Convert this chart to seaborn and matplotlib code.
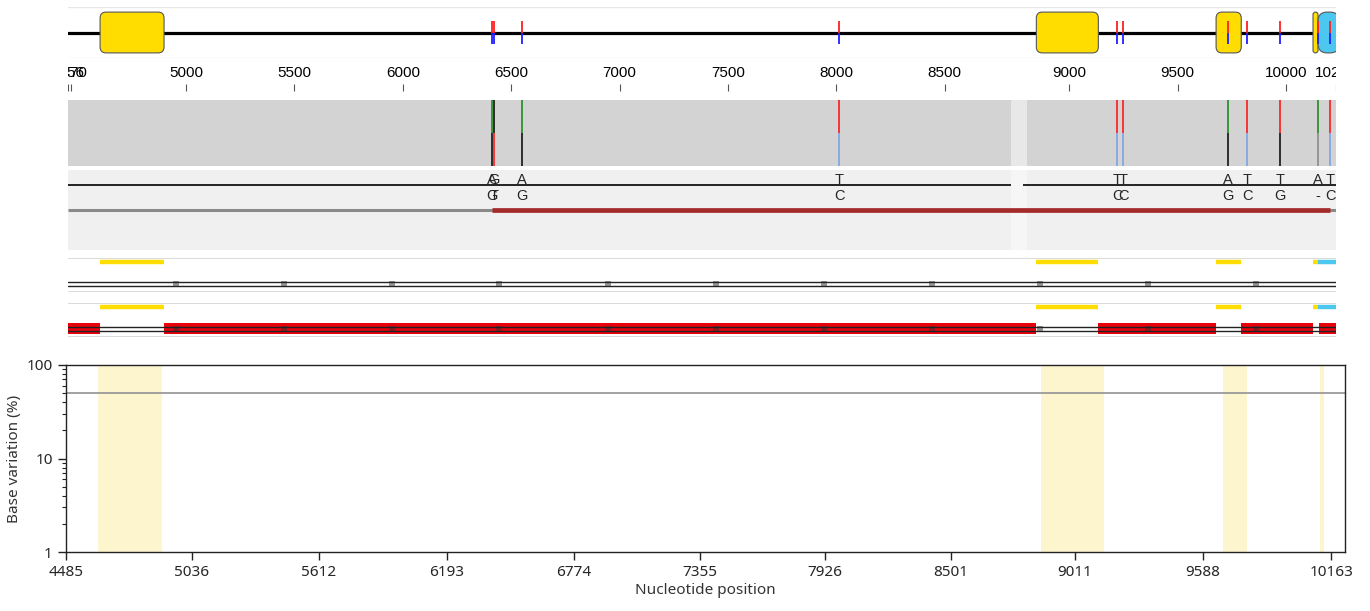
import matplotlib
matplotlib.use("Agg")
import matplotlib.pyplot as plt
from matplotlib.patches import FancyBboxPatch
import seaborn as sns

# ORFs on the genome map (reference positions)
orf_start = [4604, 8848, 9677, 10124, 10147]
orf_end = [4899, 9134, 9793, 10147, 10245]
orf_color = ['#FFDD00', '#FFDD00', '#FFDD00', '#FFDD00', '#4CC8F0']

# variants (reference positions)
var_pos = [6410, 6419, 6548, 8014, 9221, 9249, 9733, 9820, 9972, 10147, 10203]
ref_base = ['A', 'G', 'A', 'T', 'T', 'T', 'A', 'T', 'T', 'A', 'T']
alt_base = ['G', 'T', 'G', 'C', 'C', 'C', 'G', 'C', 'G', '-', 'C']

# insertion in the alignment (no reference positions)
ins_at, ins_len = 8806, 74

# scale ticks (top, reference positions)
top_ticks = [4456, 4470, 5000, 5500, 6000, 6500, 7000, 7500, 8000, 8500,
             9000, 9500, 10000, 10230]
# alignment column markers
marker_col = [4954, 5452, 5950, 6444, 6947, 7445, 7943, 8441, 8939, 9437, 9936]

# bottom plot (alignment columns)
band_start = [4594, 8944, 9783, 10231]
band_end = [4889, 9235, 9894, 10249]
bottom_tick_col = [4447, 5028, 5614, 6204, 6790, 7371, 7948, 8529, 9101, 9691, 10282]
bottom_tick_lab = ['4485', '5036', '5612', '6193', '6774', '7355', '7926',
                   '8501', '9011', '9588', '10163']
threshold = [50, 50]


def col(p):
    return p if p <= ins_at else p + ins_len


TOP_LIM = (4456, col(10230))
BOT_LIM = (4447, 10346)

base_color = {'A': '#1E8C1E', 'T': '#FF1A1A', 'G': '#111111', 'C': '#7BA3E8', '-': '#8C8C8C'}

sns.set_theme(style="white")
plt.rcParams['font.family'] = ['Liberation Sans', 'DejaVu Sans']

W, H = 1370, 611
fig = plt.figure(figsize=(W / 100, H / 100), dpi=100)


def px_axes(x0, y0, x1, y1):
    ax = fig.add_axes([x0 / W, 1 - y1 / H, (x1 - x0) / W, (y1 - y0) / H])
    ax.set_xlim(*TOP_LIM)
    ax.set_ylim(0, 1)
    ax.set_xticks([])
    ax.set_yticks([])
    for s in ax.spines.values():
        s.set_visible(False)
    ax.patch.set_alpha(0)
    return ax


vcol = [col(p) for p in var_pos]
ocol = [(col(s), col(e)) for s, e in zip(orf_start, orf_end)]
gap_start, gap_end = ins_at, ins_at + ins_len

# --- row 1: genome map
ax1 = px_axes(68, 7, 1336, 58)
ax1.axhline(1, color='#E6E6E6', lw=1)
ax1.axhline(0, color='#E6E6E6', lw=1)
ax1.axhline(0.5, color='black', lw=2.3, zorder=1)
px_x = (TOP_LIM[1] - TOP_LIM[0]) / 1268
px_y = 1 / 51
for (s, e), c in zip(ocol, orf_color):
    r = 9 if c != '#FFDD00' else 6
    rs = min(r * px_x, (e - s) / 2)
    box = FancyBboxPatch((s, 0.1), e - s, 0.8,
                         boxstyle=f"round,pad=0,rounding_size={rs}",
                         mutation_aspect=px_y / px_x,
                         fc=c, ec='#555555', lw=0.8, zorder=2)
    ax1.add_patch(box)
ax1.vlines(vcol, 0.5, 0.73, color='#FF2020', lw=1.3, zorder=3)
ax1.vlines(vcol, 0.27, 0.5, color='#2020FF', lw=1.3, zorder=3)

# --- row 2: scale
ax2 = px_axes(68, 58, 1336, 100)
tc = [col(t) for t in top_ticks]
for t, c in zip(top_ticks, tc):
    ax2.text(c, 0.64, str(t), ha='center', va='center', fontsize=11,
             color='black', clip_on=True)
ax2.vlines(tc, 0.21, 0.38, color='#555555', lw=0.8)

# --- row 3: coverage
ax3 = px_axes(68, 100, 1336, 166)
ax3.axvspan(TOP_LIM[0], TOP_LIM[1], color='#D3D3D3', lw=0)
ax3.axvspan(gap_start, gap_end, color='#E8E8E8', lw=0)
for p, rb, ab in zip(vcol, ref_base, alt_base):
    ax3.vlines(p, 0.5, 1, color=base_color[rb], lw=1.2)
    ax3.vlines(p, 0, 0.5, color=base_color[ab], lw=1.2)

# --- row 4: alignment
ax4 = px_axes(68, 170, 1336, 250)
ax4.axvspan(TOP_LIM[0], TOP_LIM[1], color='#F0F0F0', lw=0)
ax4.axvspan(gap_start, gap_end, color='#F6F6F6', lw=0)
ax4.hlines(0.81, TOP_LIM[0], gap_start, color='black', lw=1.2)
ax4.hlines(0.81, gap_end - 18, TOP_LIM[1], color='black', lw=1.2)
for p, rb, ab in zip(vcol, ref_base, alt_base):
    ax4.text(p, 0.875, rb, ha='center', va='center', fontsize=10.5)
    ax4.text(p, 0.675, ab, ha='center', va='center', fontsize=10.5)
ax4.hlines(0.5, TOP_LIM[0], TOP_LIM[1], color='#8A8A8A', lw=2.2)
ax4.hlines(0.5, min(vcol), max(vcol), color='#A52A2A', lw=3.4)

# --- rows 5/6: ORF tracks
yellow = [(s, e) for (s, e), c in zip(ocol, orf_color) if c == '#FFDD00']
# non-coding = complement of the yellow ORFs
gaps = []
prev = TOP_LIM[0]
for s, e in sorted(yellow):
    if s > prev:
        gaps.append((prev, s))
    prev = max(prev, e)
if prev < TOP_LIM[1]:
    gaps.append((prev + 3, TOP_LIM[1]))

for (y0, y1), with_red in (((258, 292), False), ((303, 337), True)):
    ax = px_axes(68, y0, 1336, y1)
    ax.axhline(1, color='#D4D4D4', lw=1.2)
    ax.axhline(0, color='#D4D4D4', lw=1.2)
    for (s, e), c in zip(ocol, orf_color):
        ax.hlines(0.89, s, e, color=c, lw=3.2)
    if with_red:
        for s, e in gaps:
            ax.axvspan(s, e, 0.09, 0.41, color='#E8000B', lw=0)
    ax.axhline(0.294, color='#222222', lw=1.0)
    ax.axhline(0.176, color='#222222', lw=1.0)
    ax.scatter(marker_col, [0.235] * len(marker_col), marker='s', s=22,
               color='#333333', alpha=0.5, lw=0)

# --- bottom: base variation
ax5 = fig.add_axes([66 / W, 1 - 552 / H, (1345 - 66) / W, (552 - 365) / H])
for s, e in zip(band_start, band_end):
    ax5.axvspan(s, e, color='#FDF5CE', lw=0)
sns.lineplot(x=list(BOT_LIM), y=threshold, ax=ax5, color='#9A9A9A', lw=1.3)
ax5.set_yscale('log')
ax5.set_ylim(1, 100)
ax5.set_xlim(*BOT_LIM)
ax5.set_xticks(bottom_tick_col)
ax5.set_xticklabels(bottom_tick_lab)
ax5.set_yticks([1, 10, 100])
ax5.set_yticklabels(['1', '10', '100'])
for s in ax5.spines.values():
    s.set_visible(True)
    s.set_color('#222222')
    s.set_linewidth(1.0)
ax5.tick_params(axis='both', which='major', direction='out', length=6,
                width=1.0, color='#222222', labelsize=11, bottom=True, left=True)
ax5.tick_params(axis='y', which='minor', direction='out', length=3,
                width=0.8, color='#222222', left=True)
for lab in ax5.get_xticklabels() + ax5.get_yticklabels():
    lab.set_family(['Noto Sans', 'DejaVu Sans'])
ax5.set_xlabel('Nucleotide position', fontsize=11, family=['Noto Sans', 'DejaVu Sans'],
               color='#333333', labelpad=2)
ax5.set_ylabel('Base variation (%)', fontsize=11, family=['Noto Sans', 'DejaVu Sans'],
               color='#333333', labelpad=3)

fig.savefig('out.png', dpi=100)
